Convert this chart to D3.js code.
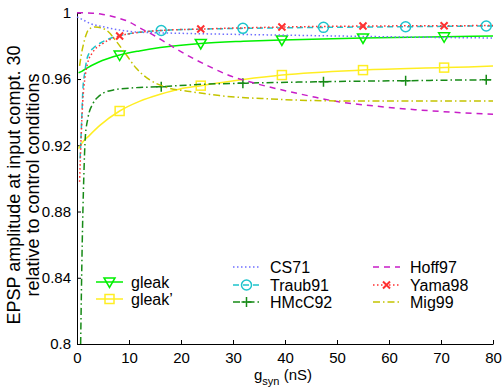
<!DOCTYPE html>
<html>
<head>
<meta charset="utf-8">
<script src="https://cdn.jsdelivr.net/npm/d3@7"></script>
<style>
  body { margin: 0; background: #fff; }
  svg { display: block; font-family: "Liberation Sans", Arial, sans-serif; }
  .axis path, .axis line { stroke: #000; stroke-width: 1; }
  .axis text { font-size: 15px; fill: #000; }
</style>
</head>
<body>
<svg width="502" height="392"></svg>
<script>
// tick labels
var xTicks = [0, 10, 20, 30, 40, 50, 60, 70, 80];
var yTicks = [0.8, 0.84, 0.88, 0.92, 0.96, 1];

// marker positions (g_syn values where symbols sit)
var markA = [8.2, 23.8, 39.4, 55, 70.6];
var markB = [16.2, 31.9, 47.4, 63.2, 78.7];

// series
var gleakX = [0.3, 1, 2, 4, 8.2, 12, 16, 23.8, 32, 39.4, 55, 70.6, 80];
var gleakY = [0.9638, 0.9648, 0.9668, 0.970, 0.9745, 0.977, 0.979, 0.9815, 0.9828, 0.9836, 0.9848, 0.9855, 0.986];

var gleak2X = [0.3, 1, 2.4, 4.4, 8.2, 12, 16, 19.8, 23.8, 32, 39.4, 55, 70.6, 80];
var gleak2Y = [0.918, 0.9215, 0.926, 0.932, 0.9407, 0.9465, 0.9508, 0.954, 0.956, 0.9597, 0.9624, 0.9654, 0.9669, 0.9678];

var cs71X = [0, 1, 2.4, 5, 8.2, 11.4, 20, 30, 40, 50, 60, 70, 80];
var cs71Y = [0.9975, 0.996, 0.9937, 0.9916, 0.9896, 0.9884, 0.9876, 0.987, 0.9865, 0.986, 0.9855, 0.9851, 0.9848];

var traubX = [0.6, 0.9, 1.15, 1.5, 1.8, 2.4, 3.1, 5, 7, 10, 16.2, 24, 31.9, 47.4, 63.2, 78.7, 80];
var traubY = [0.912, 0.935, 0.9546, 0.964, 0.9705, 0.976, 0.9786, 0.9826, 0.9852, 0.9873, 0.9893, 0.9902, 0.9906, 0.9912, 0.9916, 0.992, 0.992];

var hmccX = [0.7, 1.0, 1.3, 1.6, 2.1, 3.1, 4, 5, 7, 10, 16.2, 24, 31.9, 47.4, 63.2, 78.7, 80];
var hmccY = [0.8, 0.86, 0.9, 0.925, 0.9364, 0.9454, 0.949, 0.9514, 0.9534, 0.9545, 0.9554, 0.9568, 0.9575, 0.9584, 0.959, 0.9595, 0.9595];

var hoffX = [0, 3, 5, 7.5, 10, 12, 15, 17.8, 21.7, 25.5, 29.4, 33, 39, 44.8, 49.5, 57, 61.4, 65, 72, 80];
var hoffY = [1.0, 0.9998, 0.999, 0.9972, 0.9946, 0.991, 0.986, 0.9806, 0.9735, 0.9675, 0.962, 0.9585, 0.9537, 0.9497, 0.9467, 0.9438, 0.9424, 0.9415, 0.94, 0.9388];

var yamaX = [0.5, 0.8, 1.1, 1.5, 2, 3, 5, 8.2, 12, 16, 23.8, 39.4, 55, 70.6, 80];
var yamaY = [0.898, 0.925, 0.946, 0.96, 0.969, 0.976, 0.9815, 0.986, 0.9882, 0.9893, 0.9902, 0.9914, 0.992, 0.9922, 0.9923];

var migX = [0.5, 0.9, 1.4, 1.9, 2.5, 3.5, 5.6, 7.6, 9.5, 11.4, 14, 17.2, 21.7, 27.4, 37, 50, 65, 80];
var migY = [0.968, 0.976, 0.983, 0.988, 0.9905, 0.9915, 0.9896, 0.9826, 0.9745, 0.9665, 0.9595, 0.955, 0.9525, 0.95, 0.948, 0.9468, 0.9467, 0.9467];

var series = [
  { name: "gleak",   xs: gleakX,  ys: gleakY,  color: "#00f000", dash: null,          marker: "tri",    marks: markA, leg: 0, row: 0 },
  { name: "gleak\u2019", xs: gleak2X, ys: gleak2Y, color: "#ffee22", dash: null,      marker: "square", marks: markA, leg: 0, row: 1 },
  { name: "CS71",    xs: cs71X,   ys: cs71Y,   color: "#6f6fff", dash: "1.5,2.5",     marker: null,     marks: [],    leg: 1, row: 0 },
  { name: "Traub91", xs: traubX,  ys: traubY,  color: "#1ec4cc", dash: "6,4",         marker: "circle", marks: markB, leg: 1, row: 1 },
  { name: "HMcC92",  xs: hmccX,   ys: hmccY,   color: "#178a17", dash: "7,3,1.5,3",   marker: "plus",   marks: markB, leg: 1, row: 2 },
  { name: "Hoff97",  xs: hoffX,   ys: hoffY,   color: "#c81ec8", dash: "6,5",         marker: null,     marks: [],    leg: 2, row: 0 },
  { name: "Yama98",  xs: yamaX,   ys: yamaY,   color: "#ff3030", dash: "1.5,2.5",     marker: "x",      marks: markA, leg: 2, row: 1 },
  { name: "Mig99",   xs: migX,    ys: migY,    color: "#c4c400", dash: "7,3,1.5,3",   marker: null,     marks: [],    leg: 2, row: 2 }
];

var svg = d3.select("svg"),
    margin = { top: 12.8, right: 9, bottom: 48, left: 77 },
    width = +svg.attr("width") - margin.left - margin.right,
    height = +svg.attr("height") - margin.top - margin.bottom;

var x = d3.scaleLinear().domain([0, 80]).range([0, width]),
    y = d3.scaleLinear().domain([0.8, 1]).range([height, 0]);

var g = svg.append("g").attr("transform", "translate(" + margin.left + "," + margin.top + ")");

// assen, ticks naar binnen
g.append("g")
    .attr("class", "axis")
    .attr("transform", "translate(0," + height + ")")
    .call(d3.axisBottom(x).tickValues(xTicks).tickSizeInner(-4).tickSizeOuter(0).tickPadding(8)
        .tickFormat(function (d) { return String(d); }));

g.append("g")
    .attr("class", "axis")
    .call(d3.axisLeft(y).tickValues(yTicks).tickSizeInner(-4).tickSizeOuter(0).tickPadding(6)
        .tickFormat(function (d) { return String(+d.toFixed(2)); }));

var line = d3.line()
    .x(function (d) { return x(d[0]); })
    .y(function (d) { return y(d[1]); })
    .curve(d3.curveMonotoneX);

function drawMarker(sel, type, color) {
  if (type === "tri") {
    sel.append("path").attr("d", "M-5.5,-4L5.5,-4L0,5.5Z");
  } else if (type === "square") {
    sel.append("rect").attr("x", -4.5).attr("y", -4.5).attr("width", 9).attr("height", 9);
  } else if (type === "circle") {
    sel.append("circle").attr("r", 5);
  } else if (type === "plus") {
    sel.append("path").attr("d", "M-5,0L5,0M0,-5L0,5");
  } else if (type === "x") {
    sel.append("path").attr("d", "M-3.5,-3.5L3.5,3.5M-3.5,3.5L3.5,-3.5").attr("stroke-width", 2);
  }
  sel.selectAll("*").attr("fill", "none").attr("stroke", color)
      .filter(function () { return !this.getAttribute("stroke-width"); }).attr("stroke-width", 1.5);
}

series.forEach(function (s) {
  var pts = s.xs.map(function (v, i) { return [v, s.ys[i]]; });
  g.append("path")
      .datum(pts)
      .attr("fill", "none")
      .attr("stroke", s.color)
      .attr("stroke-width", 1.5)
      .attr("stroke-dasharray", s.dash)
      .attr("d", line);
  if (s.marker) {
    s.marks.forEach(function (m) {
      var i = s.xs.indexOf(m);
      var mg = g.append("g").attr("transform", "translate(" + x(m) + "," + y(i >= 0 ? s.ys[i] : 0) + ")");
      drawMarker(mg, s.marker, s.color);
    });
  }
});

// legenda's
var legends = [
  { x0: 96, text: 131, rows: [282, 299] },
  { x0: 233, text: 270, rows: [267, 285, 302] },
  { x0: 373, text: 410, rows: [267, 285, 302] }
];

series.forEach(function (s) {
  var L = legends[s.leg], yy = L.rows[s.row];
  svg.append("line")
      .attr("x1", L.x0).attr("x2", L.x0 + 27).attr("y1", yy).attr("y2", yy)
      .attr("stroke", s.color).attr("stroke-width", 1.5)
      .attr("stroke-dasharray", s.dash);
  if (s.marker) {
    drawMarker(svg.append("g").attr("transform", "translate(" + (L.x0 + 13.5) + "," + yy + ")"), s.marker, s.color);
  }
  svg.append("text")
      .attr("x", L.text).attr("y", yy).attr("dy", "0.36em")
      .attr("font-size", 16)
      .text(s.name);
});

// as-titels
var xl = svg.append("text")
    .attr("x", 283).attr("y", 380)
    .attr("text-anchor", "middle")
    .attr("font-size", 15);
xl.append("tspan").text("g");
xl.append("tspan").attr("font-size", 11).attr("dy", 5).text("syn");
xl.append("tspan").attr("dy", -5).text(" (nS)");

var yl = svg.append("text")
    .attr("transform", "translate(0,185) rotate(-90)")
    .attr("text-anchor", "middle")
    .attr("font-size", 18);
yl.append("tspan").attr("x", 0).attr("y", 20).text("EPSP amplitude at input compt. 30");
yl.append("tspan").attr("x", 0).attr("y", 39).text("relative to control conditions");
</script>
</body>
</html>
